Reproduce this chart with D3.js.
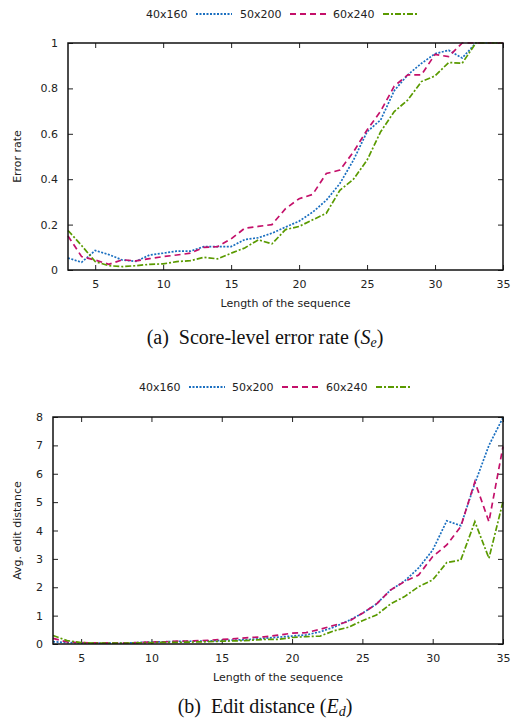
<!DOCTYPE html>
<html>
<head>
<meta charset="utf-8">
<script src="https://cdn.jsdelivr.net/npm/d3@7"></script>
<style>
  body { margin: 0; background: #fff; }
  text { font-family: "DejaVu Sans", sans-serif; font-size: 11px; fill: #222; }
  .caption { font-family: "Liberation Serif", "Times New Roman", serif; font-size: 20px; fill: #111; }
</style>
</head>
<body>
<script>
const lengths = d3.range(3, 36);
const seriesNames = ['40x160', '50x200', '60x240'];

// (a) score-level error rate
const errBlue = [0.053, 0.034, 0.086, 0.068, 0.044, 0.038, 0.066, 0.074, 0.083, 0.083, 0.103, 0.103, 0.103,
  0.134, 0.142, 0.162, 0.189, 0.215, 0.255, 0.307, 0.381, 0.484, 0.609, 0.661, 0.79, 0.86, 0.91, 0.953,
  0.968, 0.934, 1, 1, 1];
const errMagenta = [0.15, 0.059, 0.044, 0.025, 0.045, 0.04, 0.05, 0.059, 0.066, 0.074, 0.1, 0.103, 0.137,
  0.184, 0.192, 0.2, 0.27, 0.314, 0.333, 0.425, 0.44, 0.52, 0.617, 0.7, 0.81, 0.86, 0.86, 0.95,
  0.94, 1, 1, 1, 1];
const errGreen = [0.174, 0.108, 0.037, 0.019, 0.015, 0.019, 0.025, 0.027, 0.037, 0.041, 0.056, 0.049, 0.074,
  0.097, 0.133, 0.115, 0.178, 0.192, 0.221, 0.25, 0.351, 0.4, 0.484, 0.609, 0.698, 0.749, 0.83, 0.855,
  0.914, 0.911, 1, 1, 1];

// (b) average edit distance
const editBlue = [0.08, 0.05, 0.04, 0.03, 0.03, 0.03, 0.05, 0.07, 0.08, 0.09, 0.1, 0.11, 0.12,
  0.14, 0.16, 0.2, 0.24, 0.28, 0.32, 0.43, 0.6, 0.82, 1.08, 1.41, 1.9, 2.22, 2.68, 3.31,
  4.34, 4.17, 5.66, 7.0, 7.98];
const editMagenta = [0.2, 0.07, 0.05, 0.04, 0.04, 0.03, 0.05, 0.07, 0.08, 0.1, 0.11, 0.13, 0.16,
  0.19, 0.23, 0.25, 0.31, 0.38, 0.4, 0.52, 0.66, 0.79, 1.08, 1.41, 1.9, 2.2, 2.43, 3.08,
  3.49, 4.14, 5.72, 4.31, 6.96];
const editGreen = [0.3, 0.12, 0.05, 0.03, 0.03, 0.03, 0.04, 0.05, 0.06, 0.06, 0.07, 0.08, 0.1,
  0.11, 0.13, 0.16, 0.16, 0.23, 0.26, 0.28, 0.47, 0.59, 0.82, 1.02, 1.41, 1.67, 2.02, 2.26,
  2.87, 2.96, 4.31, 3.02, 5.02];

const xTicks = [5, 10, 15, 20, 25, 30, 35];
const errTicks = [0, 0.2, 0.4, 0.6, 0.8, 1];
const editTicks = [0, 1, 2, 3, 4, 5, 6, 7, 8];

const colors = ['#1a6fc0', '#c4106a', '#5a9a00'];
const dashes = ['2,1.5', '6,4', '6,2,2,2'];

const svg = d3.select('body').append('svg')
  .attr('width', 513)
  .attr('height', 721);

function panel(opts) {
  const g = svg.append('g');
  const {left, right, top, bottom} = opts.box;

  const xScale = d3.scaleLinear().domain([3, 35]).range([left, right]);
  const yScale = d3.scaleLinear().domain(opts.yDomain).range([bottom, top]);

  // legend
  const legend = g.append('g').attr('transform', 'translate(0,' + opts.legendY + ')');
  seriesNames.forEach((name, i) => {
    const lx = opts.legendX[i];
    legend.append('text')
      .attr('x', lx).attr('y', 4)
      .text(name);
    legend.append('line')
      .attr('x1', lx + 50).attr('x2', lx + 86)
      .attr('y1', 0).attr('y2', 0)
      .attr('stroke', colors[i])
      .attr('stroke-width', 2)
      .attr('stroke-dasharray', dashes[i]);
  });

  // ticks inward on all sides
  const tickLen = 5;
  g.append('g').attr('transform', 'translate(0,' + bottom + ')')
    .call(d3.axisBottom(xScale).tickValues(xTicks).tickSizeInner(-tickLen).tickSizeOuter(0).tickPadding(10))
    .call(a => a.select('.domain').remove());
  g.append('g').attr('transform', 'translate(0,' + top + ')')
    .call(d3.axisTop(xScale).tickValues(xTicks).tickSizeInner(-tickLen).tickSizeOuter(0).tickFormat(''))
    .call(a => a.select('.domain').remove());
  g.append('g').attr('transform', 'translate(' + left + ',0)')
    .call(d3.axisLeft(yScale).tickValues(opts.yTicks).tickSizeInner(-tickLen).tickSizeOuter(0).tickPadding(10).tickFormat(d3.format('~g')))
    .call(a => a.select('.domain').remove());
  g.append('g').attr('transform', 'translate(' + right + ',0)')
    .call(d3.axisRight(yScale).tickValues(opts.yTicks).tickSizeInner(-tickLen).tickSizeOuter(0).tickFormat(''))
    .call(a => a.select('.domain').remove());
  g.selectAll('.tick text').style('font-family', '"DejaVu Sans", sans-serif').style('font-size', '11px').attr('fill', '#222');
  g.selectAll('.tick line').attr('stroke', '#222');

  const line = d3.line()
    .x((d, i) => xScale(lengths[i]))
    .y(d => yScale(d));

  opts.series.forEach((vals, i) => {
    g.append('path')
      .datum(vals)
      .attr('d', line)
      .attr('fill', 'none')
      .attr('stroke', colors[i])
      .attr('stroke-width', 1.7)
      .attr('stroke-dasharray', dashes[i]);
  });

  g.append('rect')
    .attr('x', left).attr('y', top)
    .attr('width', right - left).attr('height', bottom - top)
    .attr('fill', 'none')
    .attr('stroke', '#111')
    .attr('stroke-width', 1.5);

  g.append('text')
    .attr('x', (left + right) / 2).attr('y', bottom + 37)
    .attr('text-anchor', 'middle')
    .text('Length of the sequence');

  g.append('text')
    .attr('transform', 'translate(21,' + ((top + bottom) / 2) + ') rotate(-90)')
    .attr('text-anchor', 'middle')
    .text(opts.yLabel);

  const cap = g.append('text')
    .attr('class', 'caption')
    .attr('x', opts.captionX).attr('y', opts.captionY)
    .attr('text-anchor', 'middle')
    .attr('xml:space', 'preserve')
    .style('white-space', 'pre');
  cap.append('tspan').text(opts.caption[0]);
  cap.append('tspan').attr('font-style', 'italic').text(opts.caption[1]);
  cap.append('tspan').attr('font-style', 'italic').attr('font-size', '14px').attr('dy', 3).text(opts.caption[2]);
  cap.append('tspan').attr('dy', -3).text(')');
}

panel({
  box: {left: 68, right: 503, top: 43, bottom: 270},
  yDomain: [0, 1],
  yTicks: errTicks,
  yLabel: 'Error rate',
  series: [errBlue, errMagenta, errGreen],
  legendY: 14,
  legendX: [146, 240, 333],
  caption: ['(a)  Score-level error rate (', 'S', 'e'],
  captionX: 265,
  captionY: 344
});

panel({
  box: {left: 53, right: 503, top: 417, bottom: 644},
  yDomain: [0, 8],
  yTicks: editTicks,
  yLabel: 'Avg. edit distance',
  series: [editBlue, editMagenta, editGreen],
  legendY: 387,
  legendX: [139, 232, 326],
  caption: ['(b)  Edit distance (', 'E', 'd'],
  captionX: 265,
  captionY: 713
});
</script>
</body>
</html>
